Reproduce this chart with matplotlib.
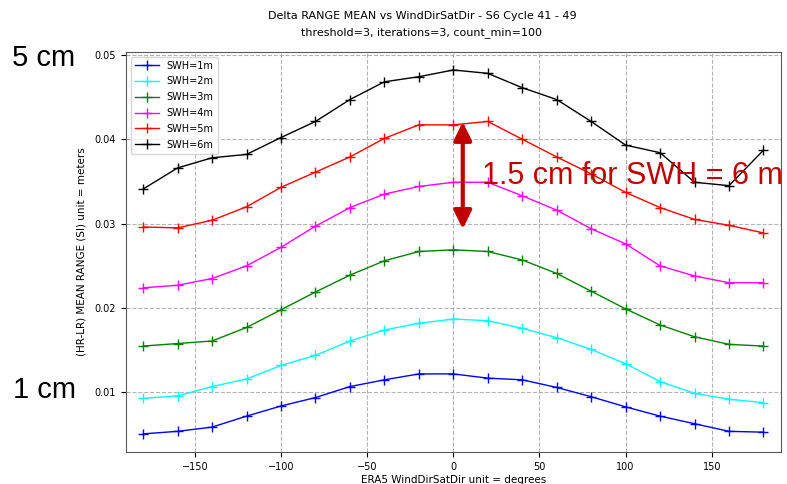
import matplotlib as mpl
mpl.use('Agg')
import matplotlib.pyplot as plt
from matplotlib.patches import FancyArrowPatch

# wind direction bins (degrees)
wind_dir = [-180, -160, -140, -120, -100, -80, -60, -40, -20, 0,
            20, 40, 60, 80, 100, 120, 140, 160, 180]

swh_labels = ['SWH=1m', 'SWH=2m', 'SWH=3m', 'SWH=4m', 'SWH=5m', 'SWH=6m']
swh_colors = ['blue', 'cyan', 'green', 'magenta', 'red', 'black']

swh_1m = [0.0051, 0.0054, 0.0059, 0.0072, 0.0084, 0.0094, 0.0107, 0.0115, 0.0122, 0.0122,
          0.0117, 0.0115, 0.0106, 0.0095, 0.0083, 0.0072, 0.0063, 0.0054, 0.0053]
swh_2m = [0.0093, 0.0096, 0.0107, 0.0116, 0.0132, 0.0144, 0.0161, 0.0174, 0.0182, 0.0187,
          0.0185, 0.0176, 0.0165, 0.0151, 0.0134, 0.0113, 0.0099, 0.0092, 0.0088]
swh_3m = [0.0155, 0.0158, 0.0161, 0.0177, 0.0198, 0.0219, 0.0239, 0.0256, 0.0267, 0.0269,
          0.0267, 0.0257, 0.0241, 0.0220, 0.0199, 0.0180, 0.0166, 0.0157, 0.0155]
swh_4m = [0.0224, 0.0227, 0.0235, 0.0250, 0.0272, 0.0297, 0.0319, 0.0335, 0.0344, 0.0349,
          0.0349, 0.0333, 0.0316, 0.0294, 0.0276, 0.0250, 0.0238, 0.0230, 0.0230]
swh_5m = [0.0296, 0.0295, 0.0304, 0.0320, 0.0343, 0.0361, 0.0379, 0.0401, 0.0417, 0.0417,
          0.0421, 0.0400, 0.0379, 0.0359, 0.0337, 0.0319, 0.0305, 0.0298, 0.0289]
swh_6m = [0.0341, 0.0366, 0.0378, 0.0382, 0.0402, 0.0421, 0.0447, 0.0468, 0.0474, 0.0482,
          0.0478, 0.0461, 0.0447, 0.0421, 0.0393, 0.0384, 0.0349, 0.0345, 0.0387]

series = [swh_1m, swh_2m, swh_3m, swh_4m, swh_5m, swh_6m]

fig = plt.figure(figsize=(7.87, 4.84), dpi=100)
ax = fig.add_axes([0.160, 0.066, 0.832, 0.827])

for vals, lab, col in zip(series, swh_labels, swh_colors):
    ax.plot(wind_dir, vals, color=col, marker='+', markersize=7, linewidth=1, label=lab)

ax.set_xlim(-190, 190)
ax.grid(True, linestyle='--', color='0.7', linewidth=0.8)
ax.tick_params(labelsize=7)
ax.set_xlabel('ERA5 WindDirSatDir unit = degrees', fontsize=7.5, labelpad=2)
ax.set_ylabel('(HR-LR) MEAN RANGE (SI) unit = meters', fontsize=7.5, labelpad=6)
for s in ax.spines.values():
    s.set_color('0.35')
ax.legend(loc='upper left', fontsize=7, handlelength=2.5, labelspacing=0.6)

fig.text(0.536, 0.966, 'Delta RANGE MEAN vs WindDirSatDir - S6 Cycle 41 - 49',
         ha='center', va='center', fontsize=8)
fig.text(0.536, 0.933, 'threshold=3, iterations=3, count_min=100',
         ha='center', va='center', fontsize=8)

# slide annotations
fig.text(0.015, 0.880, '5 cm', fontsize=21, family='Liberation Sans', va='center')
fig.text(0.017, 0.194, '1 cm', fontsize=21, family='Liberation Sans', va='center')
fig.text(0.612, 0.637, '1.5 cm for SWH = 6 m', fontsize=22, family='Liberation Sans',
         color='#C00000', va='center')
arrow = FancyArrowPatch((0.588, 0.754), (0.588, 0.521), transform=fig.transFigure,
                        arrowstyle='<|-|>,head_length=0.55,head_width=0.27',
                        mutation_scale=20, linewidth=3, color='#C00000')
fig.patches.append(arrow)

fig.savefig('out.png', dpi=100)
